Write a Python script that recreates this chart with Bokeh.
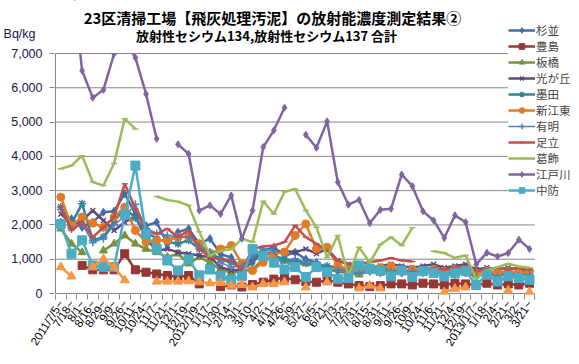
import math
from bokeh.plotting import figure
from bokeh.models import (FixedTicker, Legend, LegendItem, Label, Range1d, BoxAnnotation,
                          CustomJSTickFormatter)
from bokeh.embed import file_html
from bokeh.resources import INLINE

N = None
categories = ["2011/7/5~", "7/18~", "8/1~", "8/16~", "8/29~", "9/9~", "9/26~", "10/11~", "10/24~",
              "11/7~", "11/21~", "12/1~", "12/19~", "2012/1/9~", "1/17~", "1/30~", "2/14~", "3/1~",
              "3/10~", "4/2~", "4/11~", "4/26~", "5/9~", "5/27~", "6/5~", "6/21~", "7/3~", "7/23~",
              "7/31~", "8/15~", "8/31~", "9/11~", "9/26~", "10/9~", "10/24~", "11/6~", "11/21~",
              "12/4~", "12/19~", "2013/1/7~", "1/18~", "2/4~", "2/21~", "3/2~", "3/21~"]
y_ticks = [0, 1000, 2000, 3000, 4000, 5000, 6000, 7000]
unit_label = "Bq/kg"

suginami = [2080, 2180, 1930, 2080, 2370, 2400, 2910, 2320, 1980, 2080, 1450, 1790, 1890, 1450, 1600,
            1150, 1050, 700, 900, 1250, 1350, 1100, 1200, 1000, 900, 700, 650, 600, 700, 650, 700, 650,
            600, 700, 650, 700, 600, 650, 600, 500, 600, 550, 600, 550, 600]
toshima = [N, N, 820, 690, 690, 690, 1160, 690, 620, 570, 525, 480, 525, 280, N, 200, 250, 190, 260,
           330, 420, 450, 400, 350, 330, 380, 330, 280, 230, 200, 230, 280, 280, 250, 300, 280, 250,
           300, 280, 250, 300, 250, 280, 250, 300]
itabashi = [1890, 1450, 1200, N, 1250, 1450, 1690, 1450, 1300, 1200, 1060, 1160, 870, 1060, 900, 700,
            600, 650, 700, 1000, 1050, 950, 870, 870, 820, 670, 700, 600, 550, 650, 600, 700, 650, 600,
            700, 650, 600, 700, 750, 550, 600, 650, 600, 650, 550]
hikarigaoka = [2320, 2030, 2130, 2420, 2130, 1840, 2080, 2250, 1600, 1250, 1300, 1200, 1160, 1110,
               1060, 770, 670, 700, 1060, 1160, 1200, 1250, 1200, 1300, 1160, 1300, 960, 850, 800, 750,
               800, 850, 800, 750, 800, 850, 750, 800, 850, 700, 750, 700, 750, 700, 650]
sumida = [2520, 2030, 2620, 1550, 1650, 2100, 2500, 2200, 1800, 1600, 1500, 1450, 1550, 1300, 1200,
          1000, 900, 800, 1100, 1200, 1100, 1000, 950, 900, 850, 800, 750, 700, 800, 750, 700, 750,
          700, 650, 700, 750, 650, 700, 650, 600, 650, 600, 650, 600, 650]
shinkoto = [2810, 1980, 2230, 2050, 1930, 2230, 2520, 1840, 1500, 1550, 1550, 1640, 1660, 1450, 1160,
            1300, 1400, 870, 670, 910, 1160, 1210, 1690, 2030, 1300, 1350, 810, 700, 700, 720, 750, 800,
            650, 700, 650, 700, 650, 700, 650, 600, 650, 600, 650, 600, 650]
ariake = [2450, 1880, 2030, 1490, 1600, 2000, 2250, 2600, 1900, 1750, 1700, 1650, 1640, 1400, 1200,
          900, 770, 800, 1100, 1300, 1250, 720, 1010, 900, 910, 670, 700, 650, 600, 650, 600, 650, 600,
          650, 600, 650, 600, 550, 600, 500, 550, 500, 550, 500, 550]
adachi = [2520, 1840, 2080, 1640, 1930, 2230, 3200, 2470, 1840, 1740, 1890, 1640, 1840, 1300, 1060,
          1010, 960, 670, 1300, 1370, 1400, 1500, 1980, 1640, 1450, 1250, 960, 870, 870, 910, 960, 1040,
          960, 930, N, 750, 700, 750, 800, 650, 700, 750, 700, 750, 700]
katsushika = [3640, 3730, 4020, 3250, 3150, 3790, 5100, 4800, N, 2830, 2730, 2680, 2570, 1800, 1100,
              1250, 1290, 1600, 1500, 2690, 2320, 2970, 3050, 2420, 1930, 1050, 1690, 500, 1350, 900,
              1430, 1640, 1400, 1920, N, 1230, 1180, 1040, 1110, 430, 670, 770, 870, 790, 750]
edogawa = [9000, 9400, 6500, 5710, 5940, 6990, 7400, 6880, 5820, 4510, N, 4350, 4070, 2420, 2570, 2320,
           2860, 1600, 2420, 4270, 4760, 5420, N, 4630, 4250, 5020, 3250, 2590, 2730, 2050, 2440, 2470,
           3470, 3130, 2400, 2130, 1620, 2280, 2080, 850, 1190, 1080, 1180, 1570, 1300]
chubo = [2030, 1160, 1550, 820, 770, 770, 2300, 3730, 1730, 1300, 960, 670, 1000, 530, 700, 500, 400,
         500, 1300, 1100, 900, 700, 770, 480, 770, 620, 430, 450, 820, 720, 670, 500, 670, 480, 650,
         600, 500, 600, 650, 250, 550, 350, 500, 450, 400]
other = [770, 500, N, 770, 1010, 770, 390, N, N, 350, 350, 350, 360, 330, 300, 310, 230, 250, 180, 280,
         280, 330, N, 180, N, 330, N, N, 150, 230, 150, N, N, N, N, N, 40, 140, 180, N, N, N, 90, N, 40]

series = [
    ("杉並", suginami, "#3F6EA8", "diamond", 8, 2.5),
    ("豊島", toshima, "#953735", "square", 8, 2.5),
    ("板橋", itabashi, "#77933C", "triangle", 8, 2.5),
    ("光が丘", hikarigaoka, "#604A7B", "x", 7, 2.5),
    ("墨田", sumida, "#31859C", "asterisk", 8, 2.5),
    ("新江東", shinkoto, "#E07B28", "circle", 8, 2.5),
    ("有明", ariake, "#4F81BD", "cross", 8, 1.5),
    ("足立", adachi, "#C0504D", "dash", 6, 2.5),
    ("葛飾", katsushika, "#9BBB59", "dash", 6, 2.5),
    ("江戸川", edogawa, "#8064A2", "diamond", 7, 2.5),
    ("中防", chubo, "#4BACC6", "square", 9, 2.5),
]

# ---- layout (pixels) ----
W, H = 579, 364
frame_left, frame_bottom = 50, 294        # canvas px
plot_left, plot_bottom, plot_top = 51, 293, 53
ncat = len(categories)
cat_w = 483 / ncat                        # px per category
px_per_val = (plot_bottom - plot_top) / y_ticks[-1]

x_start = -0.5 - (plot_left - frame_left) / cat_w
x_end = x_start + (W - frame_left) / cat_w
y_start = -(frame_bottom - plot_bottom) / px_per_val
y_end = plot_bottom / px_per_val
unit_pos = (plot_bottom - 33) / px_per_val

xs = list(range(ncat))

p = figure(width=W, height=H, output_backend="svg", toolbar_location=None,
           x_range=Range1d(x_start, x_end), y_range=Range1d(y_start, y_end),
           min_border_left=frame_left, min_border_right=0, min_border_top=0,
           min_border_bottom=H - frame_bottom)
p.outline_line_color = None
p.background_fill_color = "white"
p.xgrid.grid_line_color = None
p.ygrid.grid_line_color = None

GRID = "#868686"
# horizontal gridlines and axis lines limited to the plot area
p.segment(x0=[-0.5] * (len(y_ticks) - 1), x1=[ncat - 0.5] * (len(y_ticks) - 1),
          y0=y_ticks[1:], y1=y_ticks[1:], line_color=GRID, line_width=1)
p.segment(x0=[-0.5, -0.5], x1=[ncat - 0.5, -0.5], y0=[0, 0], y1=[0, y_ticks[-1]],
          line_color=GRID, line_width=1)

def clean(vals):
    return [float("nan") if v is None else v for v in vals]

items = []
for name, vals, color, marker, size, lw in series:
    y = clean(vals)
    r1 = p.line(xs, y, line_color=color, line_width=lw)
    r2 = p.scatter(xs, y, marker=marker, size=size, fill_color=color, line_color=color,
                   line_width=1.5 if marker in ("x", "asterisk", "cross", "dash") else 1)
    items.append(LegendItem(label=name, renderers=[r1, r2]))

y = clean(other)
p.line(xs, y, line_color="#F79646", line_width=2.5)
p.scatter(xs, y, marker="triangle", size=9, fill_color="#F79646", line_color="#F79646")

# hide what goes above the top of the value axis
p.add_layout(BoxAnnotation(bottom=y_ticks[-1] + 0.6 / px_per_val, fill_color="white",
                           fill_alpha=1, line_color=None))

# x axis
p.xaxis.ticker = FixedTicker(ticks=xs, minor_ticks=[i - 0.5 for i in range(ncat + 1)])
p.xaxis.formatter = CustomJSTickFormatter(args=dict(labels=categories),
                                          code="return labels[Math.round(tick)] || '';")
p.xaxis.major_tick_out = 0
p.xaxis.major_tick_in = 0
p.xaxis.minor_tick_out = 5
p.xaxis.minor_tick_in = 0
p.xaxis.major_label_orientation = 1.0
p.xaxis.major_label_standoff = 2
p.xaxis.major_label_text_font = "Liberation Sans"
p.xaxis.major_label_text_font_size = "11.5px"
p.xaxis.major_label_text_color = "black"

# y axis (the unit label sits as an extra labelled tick above the top)
p.yaxis.ticker = FixedTicker(ticks=y_ticks + [unit_pos], minor_ticks=y_ticks)
p.yaxis.formatter = CustomJSTickFormatter(
    args=dict(top=y_ticks[-1], unit=unit_label),
    code="if (tick > top) { return unit + '\u00a0\u00a0'; } return Math.round(tick).toLocaleString('en-US');")
p.yaxis.major_tick_out = 0
p.yaxis.major_tick_in = 0
p.yaxis.minor_tick_out = 5
p.yaxis.minor_tick_in = 0
p.yaxis.major_label_standoff = 7
p.yaxis.major_label_text_font = "Liberation Sans"
p.yaxis.major_label_text_font_size = "12.5px"
p.yaxis.major_label_text_color = "#15154A"

for ax in (p.xaxis, p.yaxis):
    ax.axis_line_color = None
    ax.minor_tick_line_color = GRID

legend = Legend(items=items, location=(454, 96), orientation="vertical",
                glyph_width=27, glyph_height=14, label_height=14, spacing=0, padding=0, margin=0,
                label_standoff=1, label_text_font="Liberation Sans, Noto Sans CJK JP",
                label_text_font_size="11.5px", label_text_line_height=1.0,
                border_line_color=None, background_fill_color="white", background_fill_alpha=1)
p.add_layout(legend, "center")

p.add_layout(Label(x=218, y=frame_bottom - 17, x_units="screen", y_units="screen",
                   text="23区清掃工場【飛灰処理汚泥】の放射能濃度測定結果②",
                   text_align="center", text_baseline="middle", text_font="Noto Sans CJK JP",
                   text_font_size="15px", text_font_style="bold", text_color="black"))
p.add_layout(Label(x=212, y=frame_bottom - 35, x_units="screen", y_units="screen",
                   text="放射性セシウム134,放射性セシウム137 合計",
                   text_align="center", text_baseline="middle", text_font="Noto Sans CJK JP",
                   text_font_size="13px", text_font_style="bold", text_color="black"))

open("out.html", "w").write(file_html(p, INLINE))
